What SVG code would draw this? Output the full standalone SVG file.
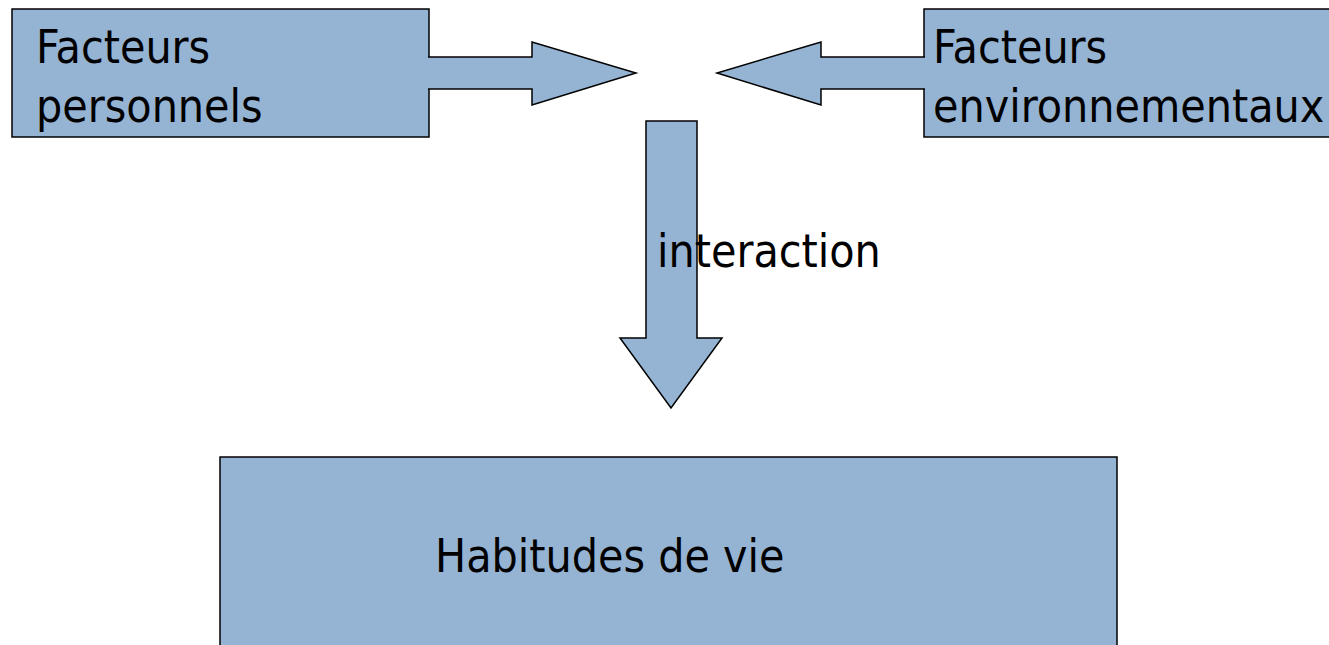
<svg xmlns="http://www.w3.org/2000/svg" width="1329" height="645" viewBox="0 0 1329 645">
<style>
.shape{fill:#95b3d3;stroke:#000;stroke-width:1.5;stroke-linejoin:miter}
.lbl{font-family:"DejaVu Sans Condensed","DejaVu Sans",sans-serif;font-stretch:condensed;font-size:46px;fill:#000}
</style>
<rect width="1329" height="645" fill="#fff"/>
<g id="node-personnels">
<rect class="shape" x="12" y="9" width="417" height="128"/>
<text class="lbl" x="36" y="63">Facteurs</text>
<text class="lbl" x="36" y="122">personnels</text>
</g>
<g id="node-environnementaux">
<rect class="shape" x="924" y="9" width="420" height="128"/>
<text class="lbl" x="933" y="63">Facteurs</text>
<text class="lbl" x="933" y="122">environnementaux</text>
</g>
<g id="node-habitudes">
<rect class="shape" x="220" y="457" width="897" height="200"/>
<text class="lbl" x="435" y="572">Habitudes de vie</text>
</g>
<g id="connectors">
<path class="shape" d="M428,57 H532 V42 L636,73 L532,105 V89 H428"/>
<path class="shape" d="M925,57 H821 V42 L717,73 L821,105 V89 H925"/>
<path class="shape" d="M646,121 H697 V338 H722 L671,408 L620,338 H646 Z"/>
<text class="lbl" x="657" y="267">interaction</text>
</g>
</svg>
